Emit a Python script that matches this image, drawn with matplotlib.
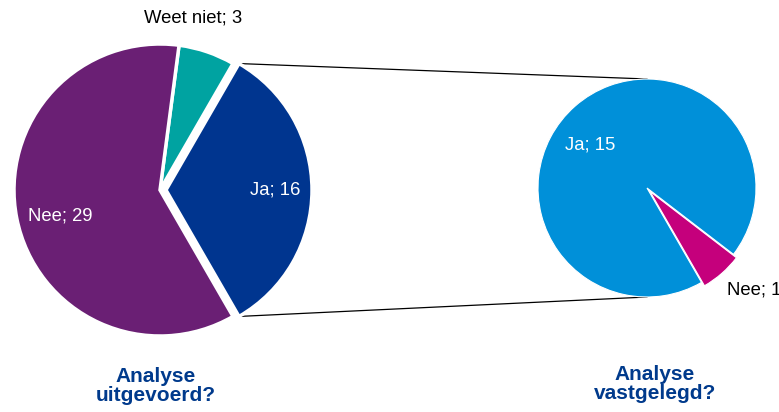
import numpy as np
import matplotlib
matplotlib.use('Agg')
import matplotlib.pyplot as plt

plt.rcParams['font.family'] = ['Liberation Sans', 'DejaVu Sans']

# Linker taart: Analyse uitgevoerd?
labels_links = ['Ja', 'Weet niet', 'Nee']
waarden_links = [16, 3, 29]
kleuren_links = ['#00358F', '#00A3A1', '#6A1F74']

# Rechter taart: Analyse vastgelegd? (opsplitsing van "Ja")
labels_rechts = ['Nee', 'Ja']
waarden_rechts = [1, 15]
kleuren_rechts = ['#C5007C', '#0090D9']

titels = ['Analyse\nuitgevoerd?', 'Analyse\nvastgelegd?']

W, H = 779, 412
fig = plt.figure(figsize=(W / 100, H / 100), dpi=100)
ax = fig.add_axes([0, 0, 1, 1])

c_links, r_links = (160, 222), 146
c_rechts, r_rechts = (647, 224), 109

# explode staat hier in data-eenheden (pixels)
wedges_l, _ = ax.pie(waarden_links, colors=kleuren_links, startangle=-60,
                     counterclock=True, explode=[6, 0, 0],
                     center=c_links, radius=r_links, frame=True,
                     wedgeprops=dict(edgecolor='white', linewidth=2.5))
wedges_r, _ = ax.pie(waarden_rechts, colors=kleuren_rechts, startangle=-60,
                     counterclock=True, explode=[4.5, 0],
                     center=c_rechts, radius=r_rechts, frame=True,
                     wedgeprops=dict(edgecolor='white', linewidth=0.8))
ax.set_xlim(0, W)
ax.set_ylim(0, H)
ax.set_aspect('equal')
ax.axis('off')

# Verbindingslijnen van "Ja" naar de rechter taart
ja = wedges_l[0]
cx, cy = ja.center
for hoek, doel_y in [(ja.theta2, c_rechts[1] + r_rechts), (ja.theta1, c_rechts[1] - r_rechts)]:
    x0 = cx + ja.r * np.cos(np.radians(hoek))
    y0 = cy + ja.r * np.sin(np.radians(hoek))
    ax.plot([x0, c_rechts[0]], [y0, doel_y], color='black', linewidth=0.9, zorder=0)

fs = 13.3
ax.text(60, 412 - 216, f'{labels_links[2]}; {waarden_links[2]}', color='white', fontsize=fs, ha='center', va='center')
ax.text(275, 412 - 190, f'{labels_links[0]}; {waarden_links[0]}', color='white', fontsize=fs, ha='center', va='center')
ax.text(193, 412 - 18, f'{labels_links[1]}; {waarden_links[1]}', color='black', fontsize=fs, ha='center', va='center')
ax.text(590, 412 - 145, f'{labels_rechts[1]}; {waarden_rechts[1]}', color='white', fontsize=fs, ha='center', va='center')
ax.text(727, 412 - 290, f'{labels_rechts[0]}; {waarden_rechts[0]}', color='black', fontsize=fs, ha='left', va='center')

ax.text(156, 412 - 386, titels[0], color='#003A8C', fontsize=15, fontweight='bold',
        ha='center', va='center', linespacing=1.05)
ax.text(655, 412 - 384, titels[1], color='#003A8C', fontsize=15, fontweight='bold',
        ha='center', va='center', linespacing=1.05)

fig.savefig('out.png', dpi=100)
